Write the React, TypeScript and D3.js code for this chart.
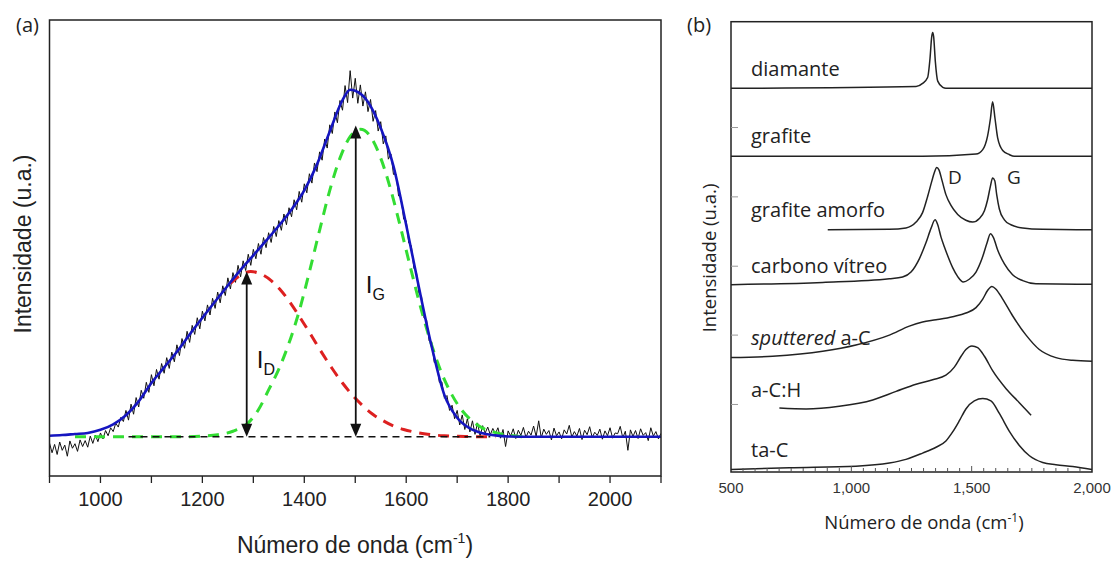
import React from 'react';
import * as d3 from 'd3';

// ---------- Panel (a) data ----------
const blackStart = 900;
const blackStep = 5;
const blackValues = [
  -1.8, -4.6, -2.2, -5.1, -1.5, -3.9, -2.4, -5.6, -1.2, -3.3,
  -2.0, -4.2, -0.9, -2.8, -1.1, -3.0, 0.2, -1.9, 0.5, -1.4,
  1.1, -0.6, 1.8, 0.3, 2.6, 1.5, 3.9, 2.8, 5.6, 4.4,
  7.6, 4.8, 9.4, 6.5, 11.3, 8.6, 13.4, 11.1, 15.7, 12.8,
  17.9, 14.7, 19.4, 16.6, 21.1, 18.3, 22.8, 19.7, 24.4, 21.6,
  26.5, 23.4, 28.3, 25.5, 30.4, 27.2, 32.1, 29.5, 34.3, 31.1,
  36.2, 33.4, 38.0, 35.1, 39.9, 37.0, 41.7, 38.6, 43.5, 40.7,
  45.8, 42.6, 47.3, 44.5, 49.4, 46.1, 50.7, 47.9, 52.6, 49.4,
  54.0, 51.3, 55.7, 52.6, 57.4, 54.5, 58.8, 56.0, 60.6, 57.7,
  62.3, 59.5, 64.2, 61.1, 66.0, 63.4, 68.3, 65.4, 70.7, 67.6,
  72.9, 70.3, 75.8, 73.1, 78.9, 76.4, 82.1, 79.7, 85.8, 83.2,
  89.9, 87.4, 93.6, 90.5, 96.9, 94.1, 101.2, 96.3, 105.5, 97.6,
  103.3, 96.1, 101.4, 95.3, 99.4, 93.7, 97.2, 90.9, 94.0, 88.1,
  90.8, 84.4, 86.7, 80.0, 81.5, 75.6, 75.7, 69.4, 68.9, 62.7,
  62.3, 55.8, 55.1, 48.6, 47.5, 41.3, 40.6, 34.2, 33.7, 27.6,
  27.3, 21.4, 21.2, 15.7, 15.8, 11.1, 11.9, 7.6, 9.1, 5.2,
  7.6, 3.4, 6.3, 2.1, 5.2, 1.4, 4.6, 0.7, 4.0, 0.1,
  3.2, 1.1, 2.8, 0.6, 2.4, 0.9, 2.6, -0.4, 2.1, -2.8,
  1.7, 0.2, 2.3, -0.5, 1.9, 0.4, 2.7, -0.2, 1.6, 0.5,
  3.1, 0.1, 4.6, -0.3, 2.2, 0.7, 1.8, -0.9, 2.5, 0.3,
  1.4, -0.6, 2.0, 0.8, 3.3, -0.1, 1.5, 0.2, 2.4, -0.8,
  1.9, 0.6, 2.9, -0.2, 1.3, 0.4, 2.2, -0.7, 1.7, 0.3,
  2.6, -0.4, 1.1, 0.9, 3.0, -0.3, 1.6, -3.9, 2.0, 0.1,
  1.8, -0.5, 2.3, 0.4, 1.2, -1.1, 2.6, 0.2, 1.5, -0.6,
  1.0,
];

const fitWave = [900, 925, 950, 975, 1000, 1025, 1050, 1075, 1100, 1125, 1150, 1175, 1200, 1225, 1250, 1275, 1300, 1325, 1350, 1375, 1400, 1425, 1450, 1475, 1490, 1500, 1525, 1550, 1575, 1600, 1625, 1650, 1675, 1700, 1725, 1750, 1775, 1800, 1850, 1900, 2000, 2100];
const fitValues = [0.3, 0.5, 0.8, 1.1, 2.0, 3.6, 6.2, 10.2, 15.5, 20.0, 24.5, 29.5, 34.3, 39.0, 43.6, 48.1, 52.3, 56.5, 60.8, 65.5, 71.0, 78.5, 88.0, 97.0, 100.0, 99.7, 96.5, 89.0, 78.0, 61.0, 43.0, 26.0, 12.0, 5.5, 2.4, 1.0, 0.4, 0.1, 0, 0, 0, 0];

const dBandWave = [1255, 1275, 1295, 1315, 1335, 1355, 1375, 1395, 1415, 1435, 1455, 1475, 1495, 1515, 1535, 1555, 1575, 1595, 1615, 1635, 1655, 1675, 1695, 1715, 1735, 1755, 1775];
const dBandValues = [44.2, 46.6, 47.6, 46.9, 45.0, 42.0, 38.1, 33.6, 28.9, 24.1, 19.6, 15.5, 11.9, 8.9, 6.4, 4.6, 3.1, 2.1, 1.4, 0.9, 0.5, 0.3, 0.2, 0.1, 0.05, 0, 0];

const gBandWave = [950, 1000, 1050, 1100, 1150, 1200, 1230, 1260, 1290, 1310, 1330, 1350, 1370, 1390, 1410, 1430, 1450, 1470, 1490, 1510, 1530, 1550, 1570, 1590, 1610, 1630, 1650, 1670, 1690, 1710, 1730, 1750, 1770, 1790, 1810, 1830];
const gBandValues = [0, 0, 0, 0, 0, 0.2, 0.6, 1.6, 4.0, 7.8, 13.5, 19.5, 27.0, 36.2, 47.5, 59.5, 71.0, 80.3, 86.5, 88.6, 86.5, 80.3, 71.0, 59.7, 47.8, 36.4, 26.4, 18.2, 12.0, 7.5, 4.5, 2.5, 1.4, 0.7, 0.3, 0];

const baselineWave = [1055, 1765];
const arrowWave = [1287, 1501];
const arrowTop = [47.6, 89.7];
const arrowLabel = ['D', 'G'];
const arrowLabelLevel = [19.8, 41.4];

const xTicksA = [900, 1000, 1100, 1200, 1300, 1400, 1500, 1600, 1700, 1800, 1900, 2000, 2100];
const xLabelsA = [1000, 1200, 1400, 1600, 1800, 2000];

// ---------- Panel (b) data ----------
const diamanteWave = [500, 1269, 1296, 1317, 1327, 1334, 1338, 1342, 1349, 1359, 1380, 1393, 2000];
const diamanteValues = [85.2, 85.6, 86.3, 87.6, 91.9, 96.7, 97.6, 96.7, 91.2, 86.8, 85.4, 85.2, 85.2];

const grafiteWave = [500, 1296, 1518, 1546, 1566, 1578, 1587, 1597, 1608, 1629, 1656, 1677, 2000];
const grafiteValues = [70.1, 70.1, 70.6, 71.6, 74.6, 78.5, 82.2, 78.5, 74.2, 71.4, 70.5, 70.1, 70.1];

const amorfoWave = [902, 1158, 1227, 1269, 1296, 1317, 1335, 1345, 1355, 1364, 1377, 1393, 1414, 1442, 1476, 1504, 1532, 1553, 1566, 1578, 1587, 1596, 1604, 1615, 1636, 1663, 1712, 1795, 2000];
const amorfoValues = [53.8, 53.9, 54.2, 55.5, 57.6, 61.2, 64.7, 66.5, 67.6, 67.1, 64.7, 61.6, 59.2, 57.2, 55.9, 55.5, 56.3, 58.0, 60.4, 63.5, 65.3, 64.7, 61.6, 58.4, 56.0, 54.9, 54.2, 53.9, 53.8];

const vitreoWave = [500, 881, 1158, 1213, 1248, 1283, 1310, 1331, 1348, 1359, 1373, 1386, 1400, 1421, 1442, 1465, 1490, 1518, 1543, 1564, 1578, 1590, 1608, 1636, 1670, 1712, 1767, 2000];
const vitreoValues = [41.6, 42.1, 42.9, 43.3, 44.4, 47.4, 50.9, 54.1, 56.0, 54.9, 52.1, 50.1, 48.1, 45.4, 43.4, 42.2, 42.8, 44.4, 47.4, 50.9, 52.9, 52.1, 49.3, 46.2, 43.8, 42.5, 41.8, 41.7];

const sputteredWave = [500, 673, 881, 1019, 1158, 1241, 1296, 1352, 1421, 1476, 1518, 1546, 1566, 1584, 1601, 1629, 1670, 1726, 1781, 1850, 1920, 2000];
const sputteredValues = [25.4, 25.7, 26.8, 28.2, 30.4, 32.4, 33.3, 33.8, 34.5, 35.3, 36.5, 38.4, 40.3, 41.2, 40.6, 38.4, 34.7, 30.4, 27.2, 25.4, 24.8, 24.6];

const achWave = [701, 812, 950, 1089, 1186, 1269, 1338, 1393, 1428, 1456, 1476, 1501, 1525, 1553, 1587, 1643, 1698, 1747];
const achValues = [14.2, 14.0, 14.6, 16.0, 17.9, 19.5, 20.5, 21.5, 23.3, 25.7, 27.2, 28.0, 27.6, 25.7, 22.5, 18.5, 15.4, 12.6];

const tacWave = [500, 742, 1019, 1158, 1227, 1296, 1352, 1393, 1421, 1449, 1476, 1511, 1546, 1580, 1615, 1656, 1698, 1740, 1795, 1850, 1920, 2000];
const tacValues = [0.55, 0.95, 1.3, 2.0, 2.8, 4.2, 5.5, 6.9, 8.9, 11.4, 14.0, 15.8, 16.3, 15.8, 13.0, 9.1, 5.9, 3.6, 2.1, 1.6, 1.2, 0.55];

const spectraLabels = ['diamante', 'grafite', 'grafite amorfo', 'carbono vítreo', 'sputtered', 'a-C:H', 'ta-C'];
const labelBaselineY = [76, 143, 217, 273, 345, 397, 457];

const xTicksB = [500, 1000, 1500, 2000];
const leftTicksB = [15.0, 30.4, 45.7, 61.1, 76.5];

export default function App() {
  const xA = d3.scaleLinear().domain([900, 2100]).range([49.5, 661]);
  const yA = d3.scaleLinear().domain([-11.3, 120.1]).range([476, 20]);
  const xB = d3.scaleLinear().domain([500, 2000]).range([731, 1092]);
  const yB = d3.scaleLinear().domain([0, 100]).range([472, 21.7]);

  const pairs = (w: number[], v: number[]) => w.map((x, i) => [x, v[i]] as [number, number]);

  const rawLine = d3.line<[number, number]>().x(d => xA(d[0])).y(d => yA(d[1]));
  const smoothLineA = d3.line<[number, number]>().x(d => xA(d[0])).y(d => yA(d[1])).curve(d3.curveMonotoneX);
  const smoothLineB = d3.line<[number, number]>().x(d => xB(d[0])).y(d => yB(d[1])).curve(d3.curveMonotoneX);

  const blackPts = blackValues.map((v, i) => [blackStart + i * blackStep, v] as [number, number]);

  const minorB = d3.range(550, 2000, 50);

  const fontA = 'Liberation Sans, Arial, sans-serif';
  const fontB = '"Open Sans", sans-serif';

  const spectraB = [
    pairs(diamanteWave, diamanteValues),
    pairs(grafiteWave, grafiteValues),
    pairs(amorfoWave, amorfoValues),
    pairs(vitreoWave, vitreoValues),
    pairs(sputteredWave, sputteredValues),
    pairs(achWave, achValues),
    pairs(tacWave, tacValues),
  ];

  const y0 = yA(0);

  return (
    <svg width={1117} height={561} style={{ position: 'absolute', left: 0, top: 0, background: '#fff' }}>
      <rect x={0} y={0} width={1117} height={561} fill="#fff" />
      {/* ---------- Panel (a) ---------- */}
      <text x={16} y={32} fontFamily={fontB} fontSize={20} fill="#222">(a)</text>
      <defs>
        <clipPath id="clipA">
          <rect x={xA(900)} y={yA(120.1)} width={xA(2100) - xA(900)} height={yA(-11.3) - yA(120.1)} />
        </clipPath>
      </defs>
      <g clipPath="url(#clipA)">
        <path d={rawLine(blackPts) || ''} fill="none" stroke="#111" strokeWidth={1} />
        <path d={smoothLineA(pairs(dBandWave, dBandValues)) || ''} fill="none" stroke="#dd2020" strokeWidth={3} strokeDasharray="11 8" />
        <path d={smoothLineA(pairs(gBandWave, gBandValues)) || ''} fill="none" stroke="#33dd33" strokeWidth={3} strokeDasharray="11 8" />
        <path d={smoothLineA(pairs(fitWave, fitValues)) || ''} fill="none" stroke="#1515c0" strokeWidth={2.6} />
        <line x1={xA(baselineWave[0])} x2={xA(baselineWave[1])} y1={y0} y2={y0} stroke="#111" strokeWidth={1.6} strokeDasharray="7 5" />
      </g>
      {arrowWave.map((w, i) => {
        const x = xA(w);
        const yt = yA(arrowTop[i]);
        return (
          <g key={'arr' + i}>
            <line x1={x} x2={x} y1={yt + 10} y2={y0 - 10} stroke="#111" strokeWidth={1.8} />
            <polygon points={`${x},${yt} ${x - 5.5},${yt + 13} ${x + 5.5},${yt + 13}`} fill="#111" />
            <polygon points={`${x},${y0} ${x - 5.5},${y0 - 13} ${x + 5.5},${y0 - 13}`} fill="#111" />
            <text x={x + 10} y={yA(arrowLabelLevel[i])} fontFamily={fontA} fontSize={24} fill="#111">
              I<tspan fontSize={16} dy={7}>{arrowLabel[i]}</tspan>
            </text>
          </g>
        );
      })}
      <rect x={xA(900)} y={yA(120.1)} width={xA(2100) - xA(900)} height={yA(-11.3) - yA(120.1)} fill="none" stroke="#222" strokeWidth={1.5} />
      {xTicksA.map(t => (
        <line key={'ta' + t} x1={xA(t)} x2={xA(t)} y1={476} y2={483} stroke="#222" strokeWidth={1.3} />
      ))}
      {xLabelsA.map(t => (
        <text key={'la' + t} x={xA(t)} y={506} textAnchor="middle" fontFamily={fontA} fontSize={20} fill="#222">{t}</text>
      ))}
      <text x={355} y={553} textAnchor="middle" fontFamily={fontA} fontSize={23} fill="#222">
        Número de onda (cm<tspan fontSize={14} dy={-10}>-1</tspan><tspan dy={10}>)</tspan>
      </text>
      <text transform="translate(31,244) rotate(-90)" textAnchor="middle" fontFamily={fontA} fontSize={23} fill="#222">Intensidade (u.a.)</text>

      {/* ---------- Panel (b) ---------- */}
      <text x={687} y={32} fontFamily={fontB} fontSize={20} fill="#222">(b)</text>
      {spectraB.map((pts, i) => (
        <path key={'sb' + i} d={smoothLineB(pts) || ''} fill="none" stroke="#222" strokeWidth={1.5} />
      ))}
      <rect x={xB(500)} y={yB(100)} width={xB(2000) - xB(500)} height={yB(0) - yB(100)} fill="none" stroke="#222" strokeWidth={1.5} />
      {minorB.map(t => (
        <line key={'mb' + t} x1={xB(t)} x2={xB(t)} y1={yB(0)} y2={yB(0) - (t % 500 === 0 ? 6 : 4)} stroke="#555" strokeWidth={1} />
      ))}
      {leftTicksB.map(t => (
        <line key={'lb' + t} x1={xB(500)} x2={xB(500) + 7} y1={yB(t)} y2={yB(t)} stroke="#999" strokeWidth={1} />
      ))}
      {xTicksB.map(t => (
        <text key={'xb' + t} x={xB(t)} y={493} textAnchor="middle" fontFamily={fontA} fontSize={15} fill="#333">{d3.format(',')(t)}</text>
      ))}
      {spectraLabels.map((s, i) => (
        <text key={'lab' + i} x={751} y={labelBaselineY[i]} fontFamily={fontB} fontSize={20} fill="#222">
          {s === 'sputtered' ? (<><tspan fontStyle="italic">sputtered</tspan><tspan> a-C</tspan></>) : s}
        </text>
      ))}
      <text x={948} y={184} fontFamily={fontB} fontSize={19} fill="#222">D</text>
      <text x={1007} y={184} fontFamily={fontB} fontSize={19} fill="#222">G</text>
      <text x={924} y={529} textAnchor="middle" fontFamily={fontB} fontSize={18.5} fill="#222">
        Número de onda (cm<tspan fontSize={12} dy={-7}>-1</tspan><tspan dy={7}>)</tspan>
      </text>
      <text transform="translate(716,258) rotate(-90)" textAnchor="middle" fontFamily={fontB} fontSize={18.5} fill="#222">Intensidade (u.a.)</text>
    </svg>
  );
}
